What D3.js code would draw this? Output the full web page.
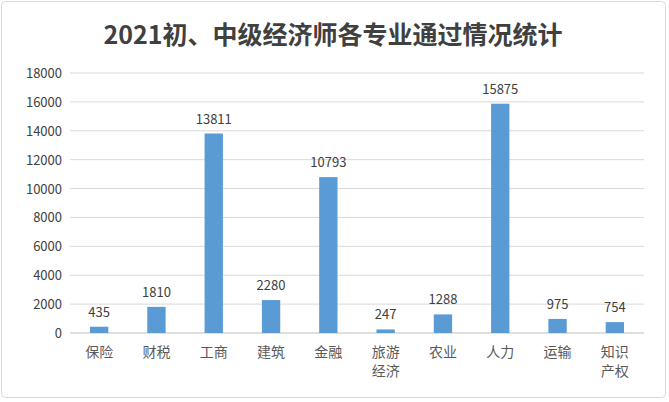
<!DOCTYPE html>
<html><head><meta charset="utf-8">
<script src="https://cdn.jsdelivr.net/npm/d3@7/dist/d3.min.js"></script>
<style>body{margin:0;background:#fff}svg{font-family:"Noto Sans CJK SC","Noto Sans",sans-serif}</style>
</head><body><svg id="c" width="669" height="402"></svg>
<script>
const categories = ["保险","财税","工商","建筑","金融","旅游\n经济","农业","人力","运输","知识\n产权"];
const values = [435,1810,13811,2280,10793,247,1288,15875,975,754];
const yTicks = [0,2000,4000,6000,8000,10000,12000,14000,16000,18000];
const svg = d3.select("#c");
svg.append("rect").attr("x",1.5).attr("y",1.5).attr("width",664).attr("height",396).attr("rx",4)
  .attr("fill","#fff").attr("stroke","#d9d9d9");
svg.append("text").attr("x",333).attr("y",44).attr("text-anchor","middle")
  .attr("font-size",25).attr("font-weight","bold").attr("fill","#404040")
  .text("2021初、中级经济师各专业通过情况统计");
const x = d3.scaleBand().domain(categories).range([70.5,643.5]).paddingInner(0.68).paddingOuter(0.34);
const y = d3.scaleLinear().domain([0,18000]).range([333,73]);
svg.append("g").selectAll("line").data(yTicks).join("line")
  .attr("x1",70).attr("x2",644).attr("y1",d=>y(d)).attr("y2",d=>y(d))
  .attr("stroke",d=>d===0?"#bfbfbf":"#d9d9d9");
svg.append("g").selectAll("text").data(yTicks).join("text")
  .attr("x",62).attr("y",d=>y(d)+5).attr("text-anchor","end").attr("font-size",13).attr("fill","#404040").text(d=>d);
svg.append("g").selectAll("rect").data(values).join("rect")
  .attr("x",(d,i)=>x(categories[i])).attr("width",x.bandwidth())
  .attr("y",d=>y(d)).attr("height",d=>y(0)-y(d)).attr("fill","#5b9bd5");
svg.append("g").selectAll("text").data(values).join("text")
  .attr("x",(d,i)=>x(categories[i])+x.bandwidth()/2).attr("y",d=>y(d)-10)
  .attr("text-anchor","middle").attr("font-size",13).attr("fill","#404040").text(d=>d);
const lab = svg.append("g").selectAll("text").data(categories).join("text")
  .attr("x",d=>x(d)+x.bandwidth()/2).attr("y",357).attr("text-anchor","middle")
  .attr("font-size",14).attr("fill","#595959");
lab.selectAll("tspan").data(d=>d.split("\n")).join("tspan")
  .attr("x",function(){return this.parentNode.getAttribute("x");})
  .attr("dy",(d,i)=>i?19:0).text(d=>d);
</script></body></html>
